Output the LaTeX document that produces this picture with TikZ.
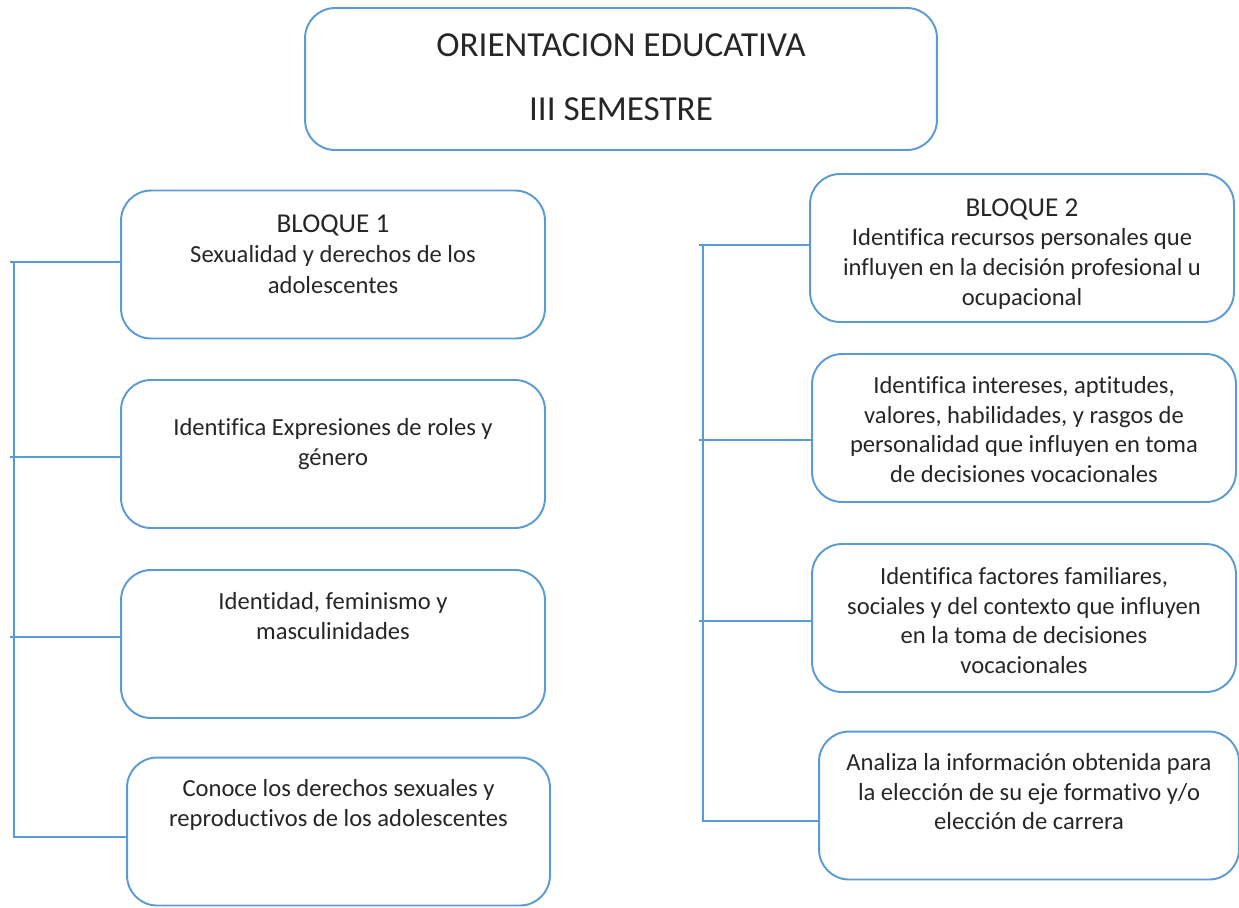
\documentclass[tikz,border=0pt]{standalone}
\usepackage{fontspec}
\setmainfont{Carlito}[Ligatures=NoCommon]
\definecolor{boxblue}{RGB}{91,155,213}
\definecolor{txt}{RGB}{38,38,38}
\begin{document}
\begin{tikzpicture}[x=0.02cm,y=-0.02cm,
  box/.style={draw=boxblue,line width=1.1pt,rounded corners=0.6cm,minimum width=8.48cm,minimum height=2.96cm,inner sep=0pt},
  lbl/.style={anchor=north,align=center,inner sep=0pt,text=txt,font=\fontsize{14}{16.9}\selectfont},
  big/.style={anchor=north,align=center,inner sep=0pt,text=txt,font=\fontsize{20}{24}\selectfont},
  link/.style={draw=boxblue,line width=1.1pt}]
\useasboundingbox (0,0) rectangle (1239,907);
% top
\node[box,minimum width=12.64cm,minimum height=2.84cm] (top) at (621,79) {};
\node[big] (toptxt) at (621,33) {ORIENTACION EDUCATIVA\\[12.9pt]III SEMESTRE};
% left boxes
\node[box] (L1) at (333,264.5) {};
\node[box] (L2) at (333,454) {};
\node[box] (L3) at (333,644) {};
\node[box,minimum width=8.46cm] (L4) at (338.5,831.5) {};
\node[lbl,font=\fontsize{14}{17.4}\selectfont] (L1t) at (333,214) {{\fontsize{15.5}{18.2}\selectfont BLOQUE 1}\\Sexualidad y derechos de los\\adolescentes};
\node[lbl] (L2t) at (333,418) {Identifica Expresiones de roles y\\género};
\node[lbl] (L3t) at (333,592) {Identidad, feminismo y\\masculinidades};
\node[lbl] (L4t) at (338.5,779) {Conoce los derechos sexuales y\\reproductivos de los adolescentes};
% right boxes
\node[box] (R1) at (1022,248) {};
\node[box] (R2) at (1024,428) {};
\node[box] (R3) at (1024,618) {};
\node[box,minimum width=8.4cm] (R4) at (1029,805.5) {};
\node[lbl] (R1t) at (1022,198) {{\fontsize{15.5}{17.5}\selectfont BLOQUE 2}\\Identifica recursos personales que\\influyen en la decisión profesional u\\ocupacional};
\node[lbl] (R2t) at (1024,376) {Identifica intereses, aptitudes,\\valores, habilidades, y rasgos de\\personalidad que influyen en toma\\de decisiones vocacionales};
\node[lbl] (R3t) at (1024,567) {Identifica factores familiares,\\sociales y del contexto que influyen\\en la toma de decisiones\\vocacionales};
\node[lbl] (R4t) at (1029,753) {Analiza la información obtenida para\\la elección de su eje formativo y/o\\elección de carrera};
% left bracket
\coordinate (la1) at (10,262);
\coordinate (la2) at (10,457);
\coordinate (la3) at (10,637);
\coordinate (lv1) at (14,262);
\coordinate (lv4) at (14,837);
\draw[link] (la1) -- (L1.west |- la1);
\draw[link] (la2) -- (L2.west |- la2);
\draw[link] (la3) -- (L3.west |- la3);
\draw[link] (lv1) -- (lv4) -- (L4.west |- lv4);
% right bracket
\coordinate (ra1) at (699,245);
\coordinate (ra2) at (699,440);
\coordinate (ra3) at (699,621);
\coordinate (rv1) at (703,245);
\coordinate (rv4) at (703,821);
\draw[link] (ra1) -- (R1.west |- ra1);
\draw[link] (ra2) -- (R2.west |- ra2);
\draw[link] (ra3) -- (R3.west |- ra3);
\draw[link] (rv1) -- (rv4) -- (R4.west |- rv4);
\end{tikzpicture}
\end{document}
